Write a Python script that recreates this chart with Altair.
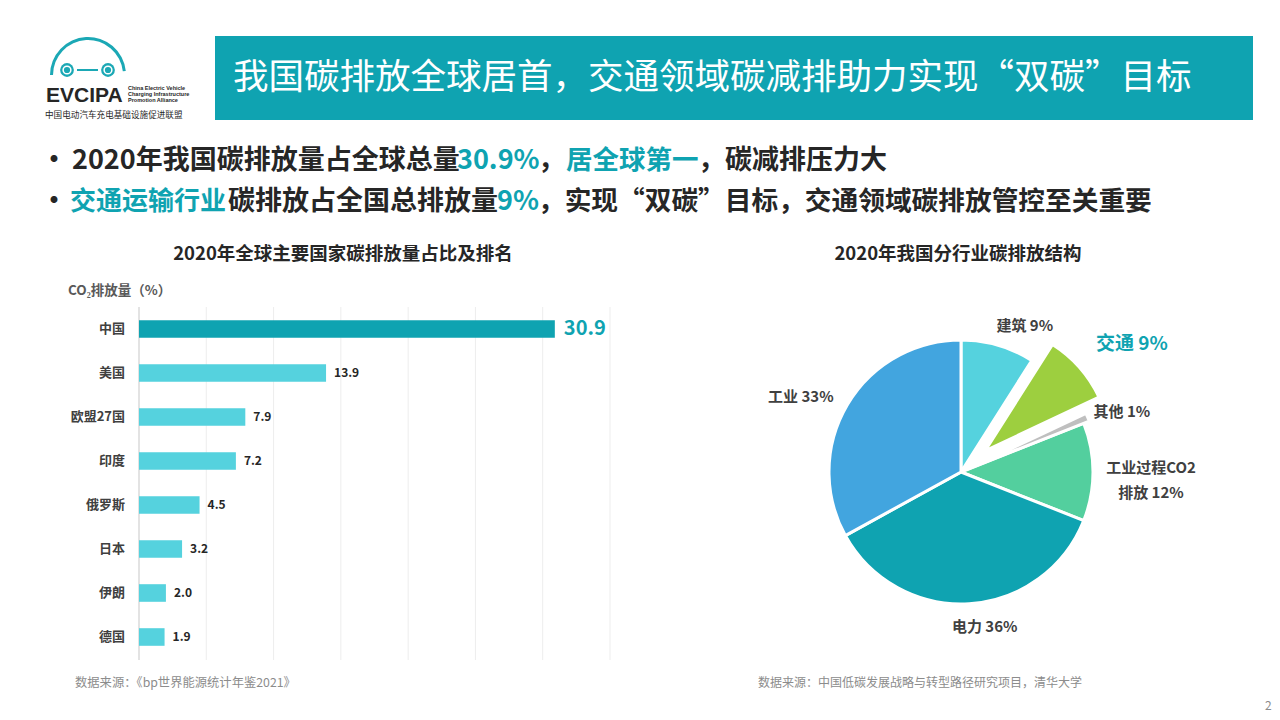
import math
import altair as alt
import pandas as pd

# ---------------- data ----------------
countries = ["中国", "美国", "欧盟27国", "印度", "俄罗斯", "日本", "伊朗", "德国"]
shares = [30.9, 13.9, 7.9, 7.2, 4.5, 3.2, 2.0, 1.9]
grid_values = [0, 5, 10, 15, 20, 25, 30, 35]

sectors = ["建筑", "交通", "其他", "工业过程CO2排放", "电力", "工业"]
sector_labels = ["建筑 9%", "交通 9%", "其他 1%", "工业过程CO2\n排放 12%", "电力 36%", "工业 33%"]
sector_pct = [9, 9, 1, 12, 36, 33]
sector_colors = ["#55D2DE", "#9DCF3F", "#BFBFBF", "#53CF9E", "#0FA3B1", "#42A5DF"]

title_text = "我国碳排放全球居首，交通领域碳减排助力实现“双碳”目标"
bar_title = "2020年全球主要国家碳排放量占比及排名"
pie_title = "2020年我国分行业碳排放结构"
y_title = "CO₂排放量（%）"
source_left = "数据来源：《bp世界能源统计年鉴2021》"
source_right = "数据来源：中国低碳发展战略与转型路径研究项目，清华大学"

# ---------------- styling ----------------
OFF = 8  # page margin
TEAL = "#0FA3B1"
CYAN = "#55D2DE"
DARK = "#262626"
FONT = "Noto Sans CJK SC"

def X(v):
    return v - OFF

def Y(v):
    return v - OFF

one = pd.DataFrame({"a": [0]})

def txt(text, x, y, size, color=DARK, weight="bold", align="left", baseline="middle", font=FONT):
    return alt.Chart(one).mark_text(
        text=text, fontSize=size, color=color, fontWeight=weight, align=align,
        baseline=baseline, font=font
    ).encode(x=alt.value(X(x)), y=alt.value(Y(y)))

layers = []

# ---------------- header ----------------
layers.append(alt.Chart(one).mark_rect(color=TEAL).encode(
    x=alt.value(X(215)), x2=alt.value(X(1253)), y=alt.value(Y(36)), y2=alt.value(Y(120))))
layers.append(txt(title_text, 233, 78, 35.5, color="white", weight="normal"))

# logo
LOGO = "#1BA8B5"
layers.append(alt.Chart(one).mark_arc(color=LOGO, radius=38, radius2=35,
                                      theta=4.71, theta2=7.75).encode(
    x=alt.value(X(88)), y=alt.value(Y(75))))
for wx in [67, 108]:
    layers.append(alt.Chart(one).mark_point(shape="circle", filled=True, color=LOGO, size=190, opacity=1).encode(
        x=alt.value(X(wx)), y=alt.value(Y(70))))
    layers.append(alt.Chart(one).mark_point(shape="circle", filled=False, color="white", size=60,
                                            strokeWidth=1.5, opacity=1).encode(
        x=alt.value(X(wx)), y=alt.value(Y(70))))
layers.append(alt.Chart(one).mark_rule(color=LOGO, strokeWidth=2).encode(
    x=alt.value(X(77)), x2=alt.value(X(98)), y=alt.value(Y(70))))
layers.append(txt("EVCIPA", 46, 96, 21, color=DARK, font="Liberation Sans"))
for i, s in enumerate(["China Electric Vehicle", "Charging Infrastructure", "Promotion Alliance"]):
    layers.append(txt(s, 128, 88 + 6 * i, 5.5, color=DARK, font="Liberation Sans"))
layers.append(txt("中国电动汽车充电基础设施促进联盟", 45, 115, 8.6, color=DARK, weight="normal"))

# ---------------- bullets ----------------
layers.append(txt("•", 54, 161, 27, align="center"))
layers.append(txt("•", 54, 202, 27, align="center"))
line1 = [("2020年我国碳排放量占全球总量", 72, DARK, 27),
         ("30.9%", 457, TEAL, 27),
         ("，", 538, DARK, 27),
         ("居全球第一", 566, TEAL, 26.5),
         ("，碳减排压力大", 698, DARK, 27)]
line2 = [("交通运输行业", 70, TEAL, 26),
         ("碳排放占全国总排放量", 228, DARK, 27),
         ("9%", 497, TEAL, 27),
         ("，实现“双碳”目标，交通领域碳排放管控至关重要", 538, DARK, 26.7)]
for s, x, c, f in line1:
    layers.append(txt(s, x, 161, f, color=c))
for s, x, c, f in line2:
    layers.append(txt(s, x, 202, f, color=c))

# ---------------- bar chart ----------------
bars_df = pd.DataFrame({"country": countries, "share": shares})
grid_df = pd.DataFrame({"g": grid_values})
xscale = alt.Scale(domain=[0, 35], range=[X(139), X(610)])
yscale = alt.Scale(domain=countries, range=[Y(307), Y(659)], paddingInner=0.6, paddingOuter=0.3)

layers.append(txt(bar_title, 343, 254, 18.5, align="center"))
layers.append(txt(y_title, 68, 291, 13.5, color="#595959"))

layers.append(alt.Chart(grid_df).mark_rule(color="#EDEDED", strokeWidth=1).encode(
    x=alt.X("g:Q", scale=xscale, axis=None), y=alt.value(Y(307)), y2=alt.value(Y(660))))
layers.append(alt.Chart(one).mark_rule(color="#D0D0D0", strokeWidth=1).encode(
    x=alt.value(X(139)), y=alt.value(Y(307)), y2=alt.value(Y(660))))

bar_base = alt.Chart(bars_df).encode(
    y=alt.Y("country:N", scale=yscale, axis=None, sort=countries))
layers.append(bar_base.mark_bar().encode(
    x=alt.X("share:Q", scale=xscale, axis=None),
    color=alt.condition(alt.datum.country == "中国", alt.value(TEAL), alt.value(CYAN))))
layers.append(bar_base.mark_text(align="right", fontSize=13, fontWeight="bold", color="#404040", font=FONT).encode(
    x=alt.value(X(125)), text="country:N"))
layers.append(bar_base.transform_filter(alt.datum.country != "中国").mark_text(
    align="left", dx=8, fontSize=12, fontWeight="bold", color=DARK, font=FONT).encode(
    x=alt.X("share:Q", scale=xscale, axis=None), text=alt.Text("share:Q", format=".1f")))
layers.append(bar_base.transform_filter(alt.datum.country == "中国").mark_text(
    align="left", dx=9, fontSize=20, fontWeight="bold", color=TEAL, font=FONT).encode(
    x=alt.X("share:Q", scale=xscale, axis=None), text=alt.Text("share:Q", format=".1f")))

layers.append(txt(source_left, 75, 683, 12.3, color="#8C8C8C", weight="normal"))

# ---------------- pie chart ----------------
CX, CY, R = 961, 472, 132
cum = 0
starts, ends = [], []
for p in sector_pct:
    starts.append(cum)
    cum += p
    ends.append(cum)
pie_df = pd.DataFrame({"sector": sectors, "label": sector_labels, "pct": sector_pct,
                       "start": starts, "end": ends,
                       "mid": [(a + b) / 2 for a, b in zip(starts, ends)]})
thscale = alt.Scale(domain=[0, 100], range=[0, 2 * math.pi])
cscale = alt.Scale(domain=sectors, range=sector_colors)

def offset(sector, dist):
    i = sectors.index(sector)
    ang = 2 * math.pi * (starts[i] + ends[i]) / 200
    return dist * math.sin(ang), -dist * math.cos(ang)

layers.append(txt(pie_title, 958, 254, 18.5, align="center"))

def arc_layer(filter_expr, dx, dy, r):
    return alt.Chart(pie_df).transform_filter(filter_expr).mark_arc(
        radius=r, stroke="white", strokeWidth=3).encode(
        theta=alt.Theta("start:Q", scale=thscale),
        theta2="end:Q",
        color=alt.Color("sector:N", scale=cscale, legend=None),
        x=alt.value(X(CX + dx)), y=alt.value(Y(CY + dy)))

layers.append(arc_layer("datum.sector != '交通' && datum.sector != '其他'", 0, 0, R))
ox, oy = offset("其他", 6)
layers.append(arc_layer("datum.sector == '其他'", ox, oy, R))
ox, oy = offset("交通", 32)
layers.append(arc_layer("datum.sector == '交通'", ox, oy, 126))

def pie_label(filter_expr, r, align, size=15, color="#404040", dx=0, dy=0):
    return alt.Chart(pie_df).transform_filter(filter_expr).mark_text(
        align=align, baseline="middle", fontSize=size, fontWeight="bold", color=color,
        font=FONT, lineBreak="\n", lineHeight=25, dx=dx, dy=dy).encode(
        theta=alt.Theta("mid:Q", scale=thscale),
        radius=alt.value(r),
        text="label:N",
        x=alt.value(X(CX)), y=alt.value(Y(CY)))

layers.append(pie_label("datum.sector == '建筑' || datum.sector == '其他'", 152, "left", dx=-7))
layers.append(pie_label("datum.sector == '交通'", 180, "left", size=19, color=TEAL, dy=-9))
layers.append(pie_label("datum.sector == '工业过程CO2排放'", 190, "center", dy=-4))
layers.append(pie_label("datum.sector == '工业'", 148, "right"))
layers.append(pie_label("datum.sector == '电力'", 155, "center", dx=14))

layers.append(txt(source_right, 758, 683, 12, color="#8C8C8C", weight="normal"))
layers.append(txt("2", 1265, 706, 12, color="#8C8C8C", weight="normal"))

chart = alt.layer(*layers).properties(
    width=1264, height=704,
    autosize=alt.AutoSizeParams(type="none"),
    padding=0,
    background="white",
).configure_view(stroke=None)

chart.save("out.html", embed_options={"renderer": "svg", "actions": False})
